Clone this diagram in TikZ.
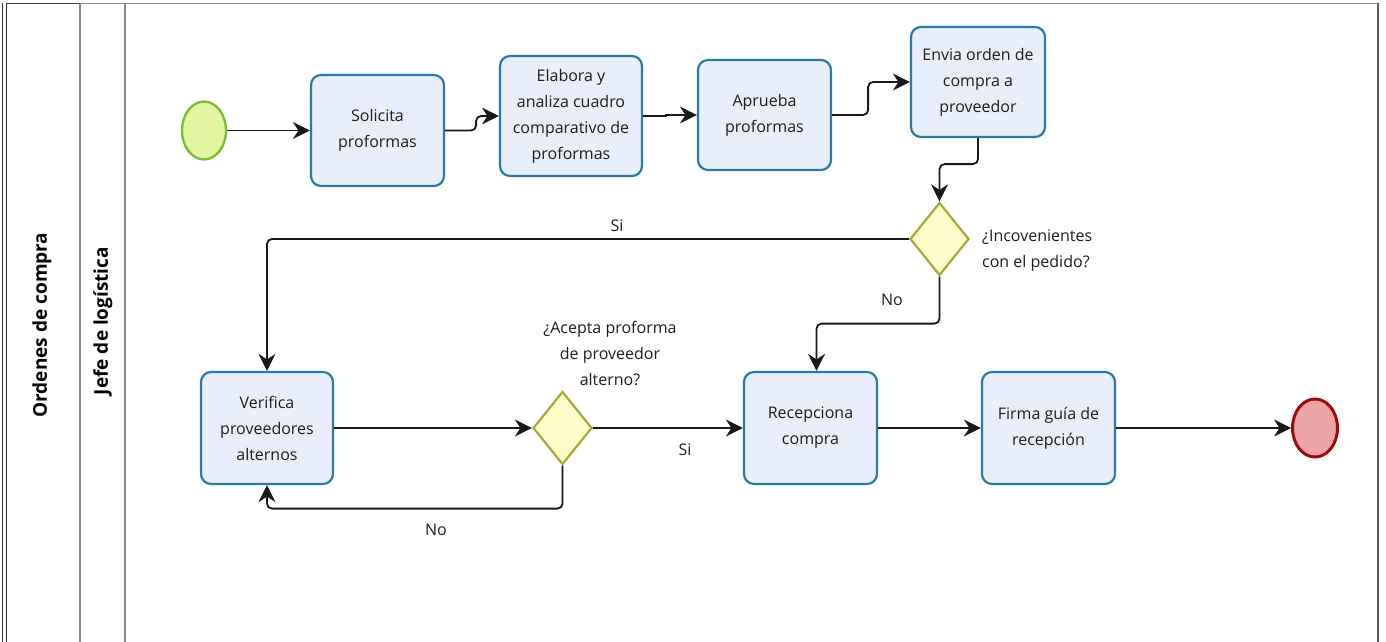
\documentclass[tikz,border=0pt]{standalone}
\usepackage{fontspec}
\setmainfont{Open Sans}
\usetikzlibrary{arrows.meta,shapes.geometric}

\definecolor{taskfill}{HTML}{E9EEFB}
\definecolor{taskline}{HTML}{2B7BA6}
\definecolor{startfill}{HTML}{E4F5A2}
\definecolor{startline}{HTML}{7FBC37}
\definecolor{endfill}{HTML}{EBA5A7}
\definecolor{endline}{HTML}{9E0B0F}
\definecolor{gwfill}{HTML}{FCFCC8}
\definecolor{gwline}{HTML}{A9A83C}
\definecolor{laneline}{HTML}{8A8A8A}
\definecolor{txt}{HTML}{1E1E1E}

\tikzset{
  task/.style={draw=taskline, fill=taskfill, line width=2.2pt, rounded corners=10pt,
    align=center, text=txt, font=\fontsize{16}{26}\selectfont, inner sep=0pt},
  gateway/.style={diamond, draw=gwline, fill=gwfill, line width=2.2pt, inner sep=0pt,
    minimum width=59pt, minimum height=73pt},
  startev/.style={ellipse, draw=startline, fill=startfill, line width=2.4pt,
    minimum width=44pt, minimum height=58pt, inner sep=0pt},
  endev/.style={ellipse, draw=endline, fill=endfill, line width=3pt,
    minimum width=45pt, minimum height=58pt, inner sep=0pt},
  flow/.style={draw=black!90, line width=1.8pt, rounded corners=5pt,
    -{Stealth[length=17pt, width=17pt, inset=5.5pt]}},
  lbl/.style={text=txt, font=\fontsize{16}{26}\selectfont, inner sep=0pt},
  lanetitle/.style={rotate=90, text=black, font=\fontsize{19}{20}\selectfont\bfseries, inner sep=0pt},
  frame/.style={draw=laneline, line width=1.5pt}
}

\begin{document}
\begin{tikzpicture}[x=1pt, y=-1pt]
  \useasboundingbox (0,0) rectangle (1386,642);

  % pool and lane frame
  \draw[black!80, line width=1.1pt] (2.5,3) -- (2.5,642);
  \draw[black!80, line width=1.1pt] (6.5,3.5) -- (6.5,642);
  \draw[frame] (80,3.5) -- (1378,3.5);
  \draw[black!75, line width=1.6pt] (6.5,3.5) -- (80,3.5);
  \draw[frame] (80,3.5) -- (80,642);
  \draw[frame] (125,3.5) -- (125,642);
  \draw[black!65, line width=2.2pt] (1378,3) -- (1378,642);

  % pool and lane titles
  \node[lanetitle] (pool) at (42,325) {Ordenes de compra};
  \node[lanetitle] (lane) at (103,321) {Jefe de logística};

  % events
  \node[startev] (start) at (204,130.5) {};
  \node[endev] (end) at (1315,428) {};

  % tasks
  \node[task, minimum width=133pt, minimum height=111pt] (t1) at (377.5,130.5) {Solicita\\proformas};
  \node[task, minimum width=142pt, minimum height=120pt] (t2) at (571,116) {Elabora y\\analiza cuadro\\comparativo de\\proformas};
  \node[task, minimum width=133pt, minimum height=110pt] (t3) at (764.5,115) {Aprueba\\proformas};
  \node[task, minimum width=134pt, minimum height=110pt] (t4) at (978,82) {Envia orden de\\compra a\\proveedor};
  \node[task, minimum width=132pt, minimum height=112pt] (t5) at (267,428) {Verifica\\proveedores\\alternos};
  \node[task, minimum width=133pt, minimum height=112pt] (t6) at (810.5,428) {Recepciona\\compra};
  \node[task, minimum width=133pt, minimum height=112pt] (t7) at (1048.5,428) {Firma guía de\\recepción};

  % gateways
  \node[gateway] (g1) at (939.5,239) {};
  \node[gateway] (g2) at (562.5,428) {};

  % gateway questions
  \node[lbl, anchor=west, align=left] (q1) at (982,251) {¿Incovenientes\\con el pedido?};
  \node[lbl, align=center] (q2) at (610,353) {¿Acepta proforma\\de proveedor\\alterno?};

  % sequence flows
  \draw[flow] (start) -- (t1);
  \draw[flow] (t1.east) -- ++(31,0) |- (t2.west);
  \draw[flow, sharp corners] (t2.east) -- ++(23,0) |- (t3.west);
  \draw[flow] (t3.east) -- ++(36,0) |- (t4.west);
  \draw[flow] (t4.south) -- ++(0,26) -| (g1.north);
  \draw[flow] (g1.west) -| (t5.north);
  \draw[flow] (g1.south) -- ++(0,47) -| ([xshift=6pt]t6.north);
  \draw[flow] (t5.east) -- (g2.west);
  \draw[flow] (g2.east) -- (t6.west);
  \draw[flow] (g2.south) -- ++(0,43) -| (t5.south);
  \draw[flow] (t6) -- (t7);
  \draw[flow] (t7) -- (end);

  % flow labels
  \node[lbl] (si1) at (617,226) {Si};
  \node[lbl] (no1) at (892,300) {No};
  \node[lbl] (si2) at (685,450) {Si};
  \node[lbl] (no2) at (436,530) {No};
\end{tikzpicture}
\end{document}
